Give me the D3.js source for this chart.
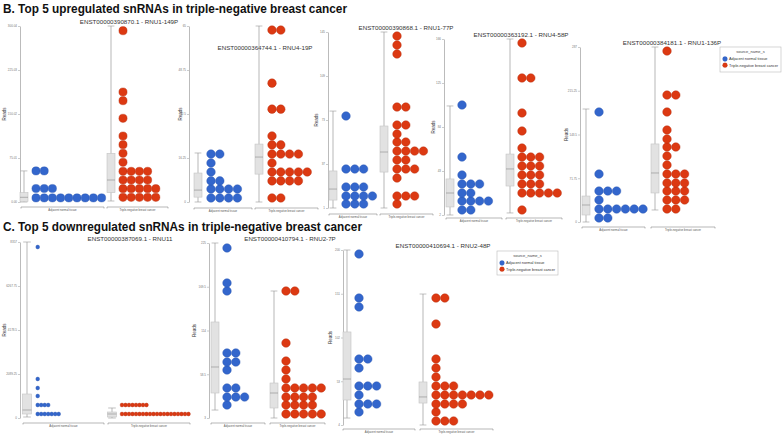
<!DOCTYPE html>
<html><head><meta charset="utf-8">
<script src="https://cdn.jsdelivr.net/npm/d3@7"></script>
<style>body{margin:0;background:#fff}svg{display:block;font-family:"Liberation Sans",Arial,sans-serif}</style>
</head><body><svg id="c" width="783" height="436"></svg>
<script>
// ---------------- DATA ----------------
const groups = ["Adjacent normal tissue", "Triple-negative breast cancer"];
const sectionTitles = [
  "B. Top 5 upregulated snRNAs in triple-negative breast cancer",
  "C. Top 5 downregulated snRNAs in triple-negative breast cancer"
];
const legendTitle = "source_name_s";
const transcripts = [
  "ENST00000390870.1 - RNU1-149P", "ENST00000364744.1 - RNU4-19P",
  "ENST00000390868.1 - RNU1-77P", "ENST00000363192.1 - RNU4-58P",
  "ENST00000384181.1 - RNU1-136P", "ENST00000387069.1 - RNU11",
  "ENST00000410794.1 - RNU2-7P", "ENST00000410694.1 - RNU2-48P"
];
const yTickLabels = [
  ["0.00", "75.01", "150.02", "225.03", "300.04"],
  ["0", "16.25", "32.5", "48.75", "65"],
  ["1", "37", "73", "109", "145"],
  ["2", "43", "84", "125", "166"],
  ["0", "71.75", "143.5", "215.25", "287"],
  ["0", "2089.25", "4178.5", "6267.75", "8357"],
  ["3", "58.5", "114", "169.5", "225"],
  ["4", "53", "102", "151", "200"]
];
// dot bins per panel: [reads value, number of samples in the bin]
const normalDots = [
  [[7, 9], [23, 3], [53, 2]],
  [[1.5, 4], [4.8, 4], [7.8, 2], [11.1, 1], [14.4, 1], [17.7, 2]],
  [[4.3, 3], [10.8, 4], [18.2, 3], [32.9, 3], [76.3, 1]],
  [[6.7, 2], [15, 4], [22.5, 2], [30.9, 3], [39.3, 1], [56, 1], [104.5, 1]],
  [[6.6, 2], [21.3, 6], [36.1, 1], [50.8, 3], [78.7, 1], [180.4, 1]],
  [[190, 7], [617, 4], [1045, 1], [1424, 1], [1852, 1], [8119, 1]],
  [[19.5, 1], [29.6, 3], [41.1, 2], [63.9, 1], [74, 2], [85.5, 2], [164.1, 1], [174.3, 1], [218.7, 1]],
  [[18.6, 1], [27.5, 3], [37.6, 1], [47.7, 3], [67.8, 1], [77.9, 2], [136.2, 1], [146.2, 1], [195.5, 1]]
];
const tnbcDots = [
  [[8, 5], [22.7, 5], [37.5, 4], [52.3, 4], [67.7, 1], [83, 1], [97.7, 1], [112.5, 1], [142.7, 1], [172.7, 1], [187.5, 1], [292, 1]],
  [[1.5, 2], [7.8, 4], [11.1, 5], [14.4, 1], [17.7, 4], [21.1, 2], [24.4, 1], [34.3, 2], [43.9, 1], [63.5, 2]],
  [[4.3, 1], [10.8, 3], [25.5, 1], [32.9, 3], [40.3, 2], [47.6, 4], [55, 2], [61.5, 1], [68.9, 2], [83.6, 2], [127, 1], [134.3, 1], [141.7, 1]],
  [[6.7, 1], [22.5, 5], [30.9, 3], [39.3, 3], [47.7, 3], [56, 3], [64.4, 1], [80.3, 1], [97.1, 1], [129.7, 2], [162.3, 1]],
  [[21.3, 2], [36.1, 3], [50.8, 3], [64, 3], [78.7, 3], [93.5, 1], [108.2, 1], [123, 2], [136.1, 1], [150.9, 1], [180.4, 1], [208.2, 2], [280.4, 1]],
  [[190, 20], [617, 8]],
  [[8.1, 5], [19.5, 4], [29.6, 4], [41.1, 5], [52.5, 1], [63.9, 1], [75.3, 1], [98.1, 1], [164.1, 2]],
  [[8.5, 3], [18.6, 1], [27.5, 4], [37.6, 7], [47.7, 3], [57.8, 1], [67.8, 1], [77.9, 1], [117.1, 1], [146.2, 2]]
];
// box stats: [min, q1, median, q3, max]
const normalBox = [
  [0, 1, 8, 16, 53], [0, 1.8, 4.4, 10.7, 18.1], [1, 7.5, 16.5, 31.3, 80.3],
  [2, 9.5, 22.5, 35.6, 103.6], [0, 11.5, 27.9, 42.6, 185.3], [47, 190, 380, 1140, 8357],
  [13.1, 34.7, 67.7, 124.8, 225], [11.8, 32, 55.5, 108.2, 200]
];
const tnbcBox = [
  [1.7, 15.9, 37.5, 83, 300.04], [0, 10.3, 16.6, 21.4, 65], [1, 30.4, 46.8, 68.1, 145],
  [3.9, 29, 44.9, 58.8, 166], [19.7, 47.6, 80.4, 128, 287], [0, 47, 190, 285, 475],
  [3, 15.7, 34.7, 47.4, 164.1], [4, 28.6, 35.4, 52.2, 150.7]
];

// ---------------- LAYOUT ----------------
const layout = [
  {ax: 20, yTop: 26, yBot: 202, readsX: 4, tx: 129, ty: 22, bands: [[21, 104], [107, 168]], box: [24, 111], dots: [36, 123], step: 8.2, r: 4.1, by: 207},
  {ax: 189, yTop: 26, yBot: 202, readsX: 180, tx: 265, ty: 48, bands: [[194, 252], [255, 318]], box: [198, 259], dots: [211, 272], step: 8.8, r: 4.3, by: 208},
  {ax: 328, yTop: 32, yBot: 208, readsX: 316, tx: 406, ty: 28, bands: [[329, 377], [380, 433]], box: [333, 384], dots: [346, 397], step: 8.8, r: 4.3, by: 214},
  {ax: 444, yTop: 39, yBot: 215, readsX: 433, tx: 521, ty: 35, bands: [[446, 502], [506, 562]], box: [450, 510], dots: [462, 522], step: 8.8, r: 4.3, by: 218},
  {ax: 580, yTop: 47, yBot: 222, readsX: 566, tx: 672, ty: 43, bands: [[582, 645], [651, 715]], box: [586, 655], dots: [599, 667], step: 8.8, r: 4.3, by: 227},
  {ax: 20, yTop: 242, yBot: 418, readsX: 4, tx: 130, ty: 239, bands: [[23, 104], [108, 190]], box: [27, 112], dots: [37.7, 122], step: 3.5, r: 1.9, by: 423},
  {ax: 209, yTop: 243, yBot: 418, readsX: 194, tx: 290, ty: 239, bands: [[211, 265], [270, 325]], box: [215, 274], dots: [227, 286], step: 8.8, r: 4.3, by: 423},
  {ax: 343, yTop: 250, yBot: 425, readsX: 330, tx: 443, ty: 246, bands: [[343, 415], [420, 493]], box: [347, 423], dots: [359, 436], step: 8.8, r: 4.3, by: 429}
];
const colors = d3.scaleOrdinal().domain(groups).range(["#3366cc", "#dc3912"]);
const strokes = d3.scaleOrdinal().domain(groups).range(["#2a56ad", "#b32e0e"]);

const svg = d3.select("#c");

// section titles
[[3, 13, 344], [3, 231, 359]].forEach(([x, y, w], i) => {
  svg.append("text").attr("x", x).attr("y", y).attr("font-size", 12.5).attr("font-weight", "bold")
    .attr("fill", "#111").attr("textLength", w).attr("lengthAdjust", "spacingAndGlyphs").text(sectionTitles[i]);
});

transcripts.forEach((name, p) => {
  const L = layout[p];
  const labels = yTickLabels[p];
  const vals = labels.map(Number);
  const y = d3.scaleLinear().domain([vals[0], vals[vals.length - 1]]).range([L.yBot, L.yTop]);
  const g = svg.append("g");

  // y axis
  const axis = d3.axisLeft(y).tickValues(vals).tickFormat((d, i) => labels[i]).tickSize(2).tickSizeOuter(0);
  const ag = g.append("g").attr("transform", `translate(${L.ax},0)`).call(axis);
  ag.select(".domain").attr("stroke", "#aaa").attr("stroke-width", 0.8);
  ag.selectAll(".tick line").attr("stroke", "#aaa").attr("stroke-width", 0.6);
  ag.selectAll(".tick text").attr("font-size", 3).attr("fill", "#777").attr("x", -3).attr("font-family", "Liberation Sans, Arial, sans-serif");

  // "Reads" label
  g.append("text").attr("transform", `translate(${L.readsX + 2},${(L.yTop + L.yBot) / 2}) rotate(-90)`)
    .attr("text-anchor", "middle").attr("font-size", 4.5).attr("fill", "#333").text("Reads");

  // subtitle
  g.append("text").attr("x", L.tx).attr("y", L.ty + 2.2).attr("text-anchor", "middle")
    .attr("font-size", 6.2).attr("fill", "#333").text(name);

  const xStart = d3.scaleOrdinal().domain(groups).range(L.bands.map(b => b[0]));
  const xEnd = d3.scaleOrdinal().domain(groups).range(L.bands.map(b => b[1]));
  const boxX = d3.scaleOrdinal().domain(groups).range(L.box);
  const dotX = d3.scaleOrdinal().domain(groups).range(L.dots);

  [[groups[0], normalBox[p], normalDots[p]], [groups[1], tnbcBox[p], tnbcDots[p]]].forEach(([grp, bx, dots]) => {
    const cx = boxX(grp), hw = p === 5 ? 4.5 : 4;
    // whisker
    g.append("line").attr("x1", cx).attr("x2", cx).attr("y1", y(bx[0])).attr("y2", y(bx[4]))
      .attr("stroke", "#999").attr("stroke-width", 0.7);
    [bx[0], bx[4]].forEach(v => g.append("line").attr("x1", cx - hw * 0.85).attr("x2", cx + hw * 0.85)
      .attr("y1", y(v)).attr("y2", y(v)).attr("stroke", "#999").attr("stroke-width", 0.6));
    // box
    g.append("rect").attr("x", cx - hw).attr("width", hw * 2).attr("y", y(bx[3])).attr("height", y(bx[1]) - y(bx[3]))
      .attr("fill", "#e2e2e2").attr("stroke", "#c4c4c4").attr("stroke-width", 0.6);
    g.append("line").attr("x1", cx - hw).attr("x2", cx + hw).attr("y1", y(bx[2])).attr("y2", y(bx[2]))
      .attr("stroke", "#8a8a8a").attr("stroke-width", 0.6);
    // dots
    dots.forEach(([v, n]) => {
      d3.range(n).forEach(i => {
        g.append("circle").attr("cx", dotX(grp) + i * L.step).attr("cy", y(v)).attr("r", L.r)
          .attr("fill", colors(grp)).attr("stroke", strokes(grp)).attr("stroke-width", 0.4);
      });
    });
    // group bracket + label
    const s = xStart(grp), e = xEnd(grp);
    g.append("path").attr("d", `M${s},${L.by + 1.5}V${L.by}H${e}V${L.by + 1.5}`)
      .attr("fill", "none").attr("stroke", "#888").attr("stroke-width", 0.6);
    g.append("text").attr("x", (s + e) / 2).attr("y", L.by + 4).attr("text-anchor", "middle")
      .attr("font-size", 2.8).attr("fill", "#555").text(grp);
  });
});

// legends
[{x: 720, y: 47, w: 61, h: 25}, {x: 497, y: 251, w: 61, h: 24}].forEach(Lg => {
  const g = svg.append("g");
  g.append("rect").attr("x", Lg.x).attr("y", Lg.y).attr("width", Lg.w).attr("height", Lg.h)
    .attr("fill", "#fff").attr("stroke", "#bbb").attr("stroke-width", 0.6);
  g.append("text").attr("x", Lg.x + Lg.w / 2).attr("y", Lg.y + 5.5).attr("text-anchor", "middle")
    .attr("font-size", 4).attr("fill", "#444").text(legendTitle);
  groups.forEach((grp, i) => {
    const yy = Lg.y + 12 + i * 6.2;
    g.append("circle").attr("cx", Lg.x + 5).attr("cy", yy).attr("r", 2.4).attr("fill", colors(grp))
      .attr("stroke", strokes(grp)).attr("stroke-width", 0.3);
    g.append("text").attr("x", Lg.x + 9).attr("y", yy + 1.4).attr("font-size", 3.8).attr("fill", "#333").text(grp);
  });
});
</script></body></html>
